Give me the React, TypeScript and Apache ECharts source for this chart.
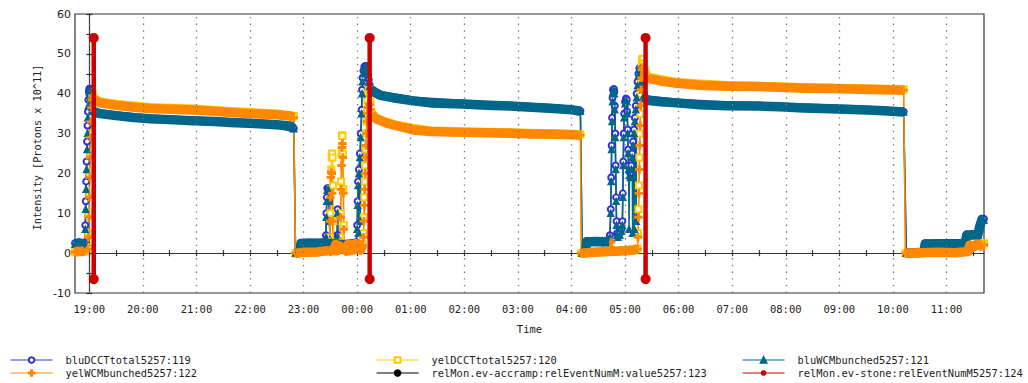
import { useEffect, useRef } from "react";
import * as echarts from "echarts";

// Time is in minutes since 19:00; intensities in units of 10^11 protons.
type Pt = [number, number];

const N119 = "bluDCCTtotal5257:119";
const N120 = "yelDCCTtotal5257:120";
const N121 = "bluWCMbunched5257:121";
const N122 = "yelWCMbunched5257:122";
const N123 = "relMon.ev-accramp:relEventNumM:value5257:123";
const N124 = "relMon.ev-stone:relEventNumM5257:124";

const hourTicks = [0, 60, 120, 180, 240, 300, 360, 420, 480, 540, 600, 660, 720, 780, 840, 900, 960];
const yTicks = [-10, 0, 10, 20, 30, 40, 50, 60];

// ---- bluWCMbunched (teal) ----
const tealBase1: Pt[] = [[-16, 2.2], [-12, 2.5], [-8, 2.3], [-5, 2.4]];
const tealRamp1: Pt[] = [[-4.5, 6], [-4, 11], [-3.5, 16], [-3, 21], [-2.5, 26], [-2, 30], [-1.5, 34], [-1, 37], [-0.5, 39.5], [0, 40.5], [0.5, 40.8], [1, 40.5], [1.5, 39], [2, 37.5], [3, 36]];
const tealFill1: Pt[] = [[4, 35.6], [12, 35.0], [30, 34.5], [50, 34.0], [68, 33.7], [90, 33.5], [116, 33.2], [140, 33.0], [158, 32.8], [185, 32.5], [210, 32.2], [225, 31.9], [229, 31.2]];
const tealBase2: Pt[] = [[231, 0], [236, 0.2], [237, 2.3], [245, 2.5], [255, 2.4], [262, 2.5], [274, 2.2], [280, 2.0], [288, 1.9], [296, 2.2], [299, 2.5]];
const tealSpikes2: Pt[] = [[265, 4], [265.5, 9], [266, 13], [266.5, 15.8], [268, 15.8], [268.5, 13], [269, 8], [269.5, 3.5], [277.5, 4], [278, 10], [278.5, 4]];
const tealRamp2: Pt[] = [[300, 6], [300.5, 12], [301, 17], [301.5, 5], [302, 20], [303, 24], [303.5, 8], [304, 29], [305, 35], [305.5, 40], [306, 43], [307, 45], [308, 46.3], [309.5, 46.7], [311, 46.5], [312, 45], [313, 43], [314, 41.8]];
const tealFill2: Pt[] = [[316, 41.0], [320, 40.3], [326, 39.6], [340, 39.0], [363, 38.2], [382, 37.7], [419, 37.4], [445, 37.1], [471, 36.9], [495, 36.6], [520, 36.3], [540, 36.0], [550, 35.6]];
const tealBase3: Pt[] = [[552, 0], [556, 0.3], [557, 2.8], [568, 2.9], [576, 2.8], [582, 2.9]];
const tealSpikes3: Pt[] = [
  [583, 4], [584, 10], [584.5, 18], [585, 26], [585.5, 33], [586, 38], [586.5, 40.5], [587.5, 40.8], [588, 40], [588.5, 36], [589, 29], [589.5, 21], [590, 13], [590.5, 7], [591, 4.5],
  [592, 4], [594, 4.5], [596, 5.5],
  [597, 7], [597.5, 14], [598, 22], [598.5, 29], [599, 34], [600, 37.5], [601, 38.3], [602, 38], [602.5, 35], [603, 30], [603.5, 25], [604, 21], [604.5, 6], [605, 19.5], [606, 19],
  [607, 21], [608, 24], [608.5, 5], [609, 27], [610, 30], [610.5, 6], [611, 33], [612, 36], [612.5, 8], [613, 39], [614, 42], [615, 44.5], [616, 46], [617, 46.3], [618, 45], [619, 43], [620, 41], [621, 39.5], [622, 38.8],
];
const tealFill3: Pt[] = [[624, 38.5], [627, 38.3], [640, 38.0], [658, 37.7], [684, 37.2], [714, 37.0], [750, 36.9], [773, 36.7], [800, 36.4], [830, 36.2], [863, 36.0], [890, 35.7], [912, 35.4]];
const tealBase4: Pt[] = [[915, 0], [925, 0.1], [935, 0.2], [936, 2.2], [950, 2.3], [965, 2.2], [981, 2.3], [982.5, 4.4], [990, 4.6], [995, 4.5], [997, 6.5], [999.5, 8.3], [1002, 8.3]];

// ---- bluDCCTtotal (blue) ----
const blueBase1: Pt[] = [[-16, 2.5], [-12, 2.7], [-8, 2.6], [-5, 2.6]];
const blueRamp1: Pt[] = [[-4.5, 7], [-4, 13], [-3.5, 18], [-3, 23], [-2.5, 28], [-2, 32], [-1.5, 35.5], [-1, 38.5], [-0.5, 40.5], [0, 41.2], [0.5, 41.3], [1, 41], [1.5, 39.5], [2, 38], [3, 36.3]];
const blueFill1: Pt[] = [[4, 35.7], [12, 35.1], [30, 34.6], [68, 33.8], [116, 33.3], [158, 32.9], [210, 32.3], [229, 31.3]];
const blueBase2: Pt[] = [[231, 0.1], [236, 0.2], [237, 2.6], [262, 2.7], [280, 2.2], [299, 2.7]];
const blueSpikes2: Pt[] = [[265, 4.5], [265.5, 10], [266, 14], [266.5, 16.3], [268, 16.3], [268.5, 13], [269, 8], [269.5, 4], [277.5, 4.5], [278, 11], [278.5, 4.5]];
const blueRamp2: Pt[] = [[300, 7], [300.5, 13], [301, 18], [302, 21], [303, 25], [304, 30], [305, 36], [305.5, 41], [306, 44], [307, 45.8], [308, 46.8], [309.5, 47], [311, 46.8], [312, 45.5], [313, 43.5], [314, 42.2]];
const blueFill2: Pt[] = [[316, 41.1], [326, 39.7], [363, 38.3], [419, 37.5], [471, 37.0], [520, 36.4], [550, 35.7]];
const blueBase3: Pt[] = [[552, 0.1], [556, 0.3], [557, 3.0], [582, 3.1]];
const blueSpikes3: Pt[] = [
  [583, 4.5], [584, 11], [584.5, 19], [585, 27], [585.5, 34], [586, 39], [586.5, 41], [587.5, 41.2], [588, 40.5], [588.5, 37], [589, 30], [589.5, 22], [590, 14], [590.5, 8], [591, 5],
  [592, 4.5], [594, 5], [596, 6],
  [597, 8], [597.5, 15], [598, 23], [598.5, 30], [599, 35], [600, 38], [601, 38.8], [602, 38.5], [602.5, 35.5], [603, 31], [603.5, 26], [604, 22], [605, 20.5], [606, 20],
  [607, 22], [608, 25], [609, 28], [610, 31], [611, 34], [612, 37], [613, 40], [614, 43], [615, 45], [616, 46.4], [617, 46.6], [618, 45.5], [619, 43.5], [620, 41.5], [621, 40], [622, 39.2],
];
const blueFill3: Pt[] = [[624, 38.6], [658, 37.8], [714, 37.1], [773, 36.8], [863, 36.1], [912, 35.5]];
const blueBase4: Pt[] = [[915, 0.1], [935, 0.2], [936, 2.5], [981, 2.6], [982.5, 4.7], [995, 4.8], [999.5, 8.6], [1002, 8.6]];

// ---- yelWCMbunched (orange) ----
const orangeBase1: Pt[] = [[-16, 0.3], [-12, 0.5], [-8, 0.4], [-5, 0.6]];
const orangeRamp1: Pt[] = [[-1.5, 1], [-1, 4], [-0.5, 9], [0, 14], [0.5, 19], [1, 24], [1.5, 29], [2, 33], [2.5, 36.5], [3, 38.5], [3.5, 39.5], [4, 39.2]];
const orangeFill1: Pt[] = [[5, 38.6], [12, 37.7], [30, 37.1], [50, 36.6], [68, 36.3], [90, 36.1], [116, 35.9], [140, 35.6], [158, 35.3], [185, 35.0], [210, 34.7], [225, 34.4], [229, 34.0]];
const orangeBase2: Pt[] = [[231, 0], [240, 0.2], [255, 0.3], [262, 0.5], [266, 0.6], [274, 0.6], [276, 2.2], [278, 0.6], [280, 1.8], [288, 0.5], [290, 2.3], [292, 0.6], [294, 2.2], [296, 0.8], [298, 2.4], [300, 1], [302, 2.3], [304, 0.8], [306, 2]];
const orangeSpikes2: Pt[] = [[269, 3], [269.5, 8], [270, 14], [270.5, 19], [271, 20.4], [271.5, 20], [272, 15], [272.5, 8], [273, 2], [281, 3], [281.5, 9], [282, 16], [282.5, 22], [283, 26.5], [283.5, 27.5], [284, 24], [284.5, 15], [285, 6], [285.5, 1.5]];
const orangeRamp2: Pt[] = [[307, 4], [307.5, 8], [308, 12], [308.5, 16], [309, 20], [309.5, 24], [310, 27], [310.5, 30], [311, 33], [311.5, 35], [312, 36.5], [313, 37.4], [314, 37.2], [315, 36]];
const orangeFill2: Pt[] = [[316, 35.0], [318, 34.3], [322, 33.6], [333, 32.6], [345, 31.9], [363, 30.9], [382, 30.5], [419, 30.3], [445, 30.2], [471, 30.1], [495, 29.9], [520, 29.8], [540, 29.7], [550, 29.6]];
const orangeBase3: Pt[] = [[551, 0], [565, 0.2], [580, 0.4], [590, 0.5], [600, 0.6], [610, 0.8], [614, 1]];
const orangeSpikes3: Pt[] = [[584, 1.5], [584.5, 2.8], [585, 1.2]];
const orangeRamp3: Pt[] = [[614.5, 4], [615, 9], [615.5, 15], [616, 21], [616.5, 27], [617, 32], [617.5, 37], [618, 41], [618.5, 44], [619, 46], [620, 46.6], [621, 46], [622, 45], [623, 44.4]];
const orangeFill3: Pt[] = [[625, 44.0], [627, 43.8], [640, 43.2], [658, 42.6], [684, 42.1], [714, 41.9], [750, 41.8], [773, 41.6], [800, 41.4], [830, 41.3], [863, 41.1], [890, 41.0], [912, 40.9]];
const orangeBase4: Pt[] = [[914, 0], [930, 0.1], [950, 0.2], [970, 0.1], [984, 0.4], [986, 2], [990, 1.5], [994, 2.3], [998, 1.8], [1002, 2.1]];

// ---- yelDCCTtotal (yellow) ----
const yellowBase1: Pt[] = [[-16, 0.2], [-10, 0.3], [-5, 0.4]];
const yellowRamp1: Pt[] = [[-1.5, 1.5], [-1, 5], [-0.5, 10], [0, 15], [0.5, 20], [1, 25], [1.5, 30], [2, 34], [2.5, 37.5], [3, 39.5], [3.5, 40.2], [4, 39.8]];
const yellowFill1: Pt[] = [[5, 38.9], [12, 38.0], [30, 37.4], [68, 36.6], [116, 36.2], [158, 35.6], [210, 35.0], [229, 34.4]];
const yellowBase2: Pt[] = [[231, 0], [262, 0.4], [268, 0.6], [275, 0.8], [280, 1.5], [288, 1], [298, 2], [306, 2.2]];
const yellowSpikes2: Pt[] = [[269.5, 4], [270, 10], [270.5, 16], [271, 21], [271.5, 24], [272, 25], [272.5, 24], [273, 17], [273.5, 8], [274, 2], [281, 4], [281.5, 10], [282, 18], [282.5, 25], [283, 29.6], [283.5, 29.4], [284, 25], [284.5, 16], [285, 7], [285.5, 2]];
const yellowRamp2: Pt[] = [[307, 5], [307.5, 9], [308, 14], [308.5, 18], [309, 22], [309.5, 26], [310, 30], [310.5, 33], [311, 36], [311.5, 38.5], [312, 40], [313, 41], [314, 40.3], [315, 38]];
const yellowFill2: Pt[] = [[316, 35.3], [322, 33.8], [345, 32.1], [382, 30.7], [471, 30.3], [520, 30.0], [550, 29.8]];
const yellowBase3: Pt[] = [[551, 0], [580, 0.4], [600, 0.7], [614, 1.1]];
const yellowRamp3: Pt[] = [[614.5, 5], [615, 11], [615.5, 17], [616, 24], [616.5, 30], [617, 35], [617.5, 40], [618, 44], [618.5, 47], [619, 48.5], [620, 48.8], [621, 47.5], [622, 46], [623, 45]];
const yellowFill3: Pt[] = [[625, 44.3], [658, 42.9], [714, 42.1], [800, 41.6], [863, 41.3], [912, 41.1]];
const yellowBase4: Pt[] = [[914, 0], [950, 0.2], [984, 0.5], [990, 2], [1002, 2.5]];

// ---- relMon.ev-stone event markers ----
const stoneEventTimes = [5, 314, 623];
const stoneHigh = 54;
const stoneLow = -6.5;
const accrampEvents: Pt[] = [];

// All points of one channel in time order (thin connecting trace with markers).
const trace = (parts: Pt[][]) => parts.flat().slice().sort((a, b) => a[0] - b[0]);
// Plateau / baseline runs, broken between runs (thick band).
const band = (runs: Pt[][]) =>
  runs.flatMap((r, i) => (i === 0 ? r : [[r[0][0], null] as any, ...r]));

const mono = "'DejaVu Sans Mono', monospace";
const plusSymbol = "path://M4,0H6V4H10V6H6V10H4V6H0V4H4Z";

const C_BLUE = "#3030d8";
const C_YEL = "#ffcc00";
const C_TEAL = "#00678a";
const C_ORANGE = "#ff8800";
const C_RED = "#cc0000";

const fmtHour = (v: number) => {
  const h = (((19 + Math.round(v / 60)) % 24) + 24) % 24;
  return (h < 10 ? "0" : "") + h + ":00";
};

const halfHourTicks = hourTicks.flatMap((h) => [h, h + 30]).filter((v) => v <= 1002);

const thinSeries = (name: string, color: string, symbol: string, size: number, data: Pt[], extra: any = {}) => ({
  type: "line",
  name,
  data,
  z: 2,
  xAxisIndex: 0,
  yAxisIndex: 0,
  symbol,
  symbolSize: size,
  showSymbol: true,
  showAllSymbol: true,
  lineStyle: { color, width: 1.5 },
  itemStyle: { color, borderColor: color, borderWidth: 1.5 },
  emphasis: { disabled: true },
  silent: true,
  animation: false,
  ...extra,
});

const bandSeries = (name: string, color: string, width: number, data: any[]) => ({
  type: "line",
  name,
  data,
  z: 3,
  xAxisIndex: 0,
  yAxisIndex: 0,
  symbol: "none",
  showSymbol: false,
  connectNulls: false,
  lineStyle: { color, width, cap: "butt", join: "round" },
  itemStyle: { color },
  emphasis: { disabled: true },
  silent: true,
  animation: false,
});

const blueRuns = [blueBase1, blueFill1, blueBase2, blueFill2, blueBase3, blueFill3, blueBase4];
const yellowRuns = [yellowBase1, yellowFill1, yellowBase2, yellowFill2, yellowBase3, yellowFill3, yellowBase4];
const tealRuns = [tealBase1, tealFill1, tealBase2, tealFill2, tealBase3, tealFill3, tealBase4];
const orangeRuns = [orangeBase1, orangeFill1, orangeBase2, orangeFill2, orangeBase3, orangeFill3, orangeBase4];

const stoneData: any[] = stoneEventTimes.flatMap((t) => [[t, stoneHigh], [t, stoneLow], [t, null]]);

const legendCommon = {
  orient: "vertical",
  top: 354,
  padding: 0,
  itemWidth: 42,
  itemHeight: 7,
  itemGap: 1,
  selectedMode: false,
  lineStyle: { width: 1.2 },
  textStyle: { fontFamily: mono, fontSize: 10.4, color: "#222", lineHeight: 12, padding: [0, 0, 0, 8] },
};

const axisColor = "#333";

const option: any = {
  animation: false,
  backgroundColor: "#ffffff",
  grid: [
    { left: 75, right: 44, top: 14, bottom: 90, show: true, borderColor: axisColor, borderWidth: 1.2, backgroundColor: "transparent" },
    { left: 75, right: 44, top: 14, bottom: 90, show: false },
  ],
  xAxis: [
    {
      type: "value",
      gridIndex: 0,
      min: -16,
      max: 1002,
      axisLine: { show: true, lineStyle: { color: axisColor, width: 1.2 } },
      axisTick: { show: true, inside: false, length: 3, customValues: halfHourTicks, lineStyle: { color: axisColor, width: 1.2 } },
      axisLabel: { customValues: hourTicks, formatter: fmtHour, margin: 10, fontFamily: mono, fontSize: 10.5, color: "#222" },
      splitLine: { show: false },
      name: "Time",
      nameLocation: "middle",
      nameGap: 30,
      nameTextStyle: { fontFamily: mono, fontSize: 10.5, color: "#222" },
    },
    {
      type: "value",
      gridIndex: 1,
      min: -16,
      max: 1002,
      axisLine: { show: false },
      axisTick: { show: true, inside: true, length: 3, customValues: halfHourTicks, lineStyle: { color: axisColor, width: 1.2 } },
      axisLabel: { show: false },
      splitLine: { show: false },
    },
  ],
  yAxis: [
    {
      type: "value",
      gridIndex: 0,
      min: -10,
      max: 60,
      interval: 5,
      axisLine: { show: true, lineStyle: { color: axisColor, width: 1.2 } },
      axisTick: { show: true, inside: false, length: 3, lineStyle: { color: axisColor, width: 1.2 } },
      axisLabel: {
        margin: 4,
        fontFamily: "'DejaVu Sans', sans-serif",
        fontSize: 11,
        color: "#222",
        formatter: (v: number) => (yTicks.includes(v) ? String(v) : ""),
      },
      splitLine: { show: false },
      name: "Intensity [Protons x 10^11]",
      nameLocation: "middle",
      nameGap: 30,
      nameTextStyle: { fontFamily: mono, fontSize: 10.2, color: "#222", padding: [0, 0, 0, 12] },
    },
    {
      type: "value",
      gridIndex: 1,
      min: -10,
      max: 60,
      interval: 5,
      axisLine: { show: false },
      axisTick: { show: true, inside: true, length: 3, lineStyle: { color: axisColor, width: 1.2 } },
      axisLabel: { show: false },
      splitLine: { show: false },
    },
  ],
  legend: [
    { ...legendCommon, left: 10, data: [N119, N122] },
    { ...legendCommon, left: 376, data: [N120, N123] },
    { ...legendCommon, left: 742, data: [N121, N124] },
  ],
  series: [
    thinSeries(N119, C_BLUE, "emptyCircle", 6,
      trace([blueBase1, blueRamp1, blueFill1, blueBase2, blueSpikes2, blueRamp2, blueFill2, blueBase3, blueSpikes3, blueFill3, blueBase4]),
      {
        markLine: {
          silent: true,
          symbol: ["none", "none"],
          label: { show: false },
          emphasis: { disabled: true },
          animation: false,
          lineStyle: { color: "#777", type: [1.4, 5.3], width: 1.3 },
          data: hourTicks.map((v) => ({ xAxis: v })),
        },
      }),
    bandSeries(N119, C_BLUE, 8, band(blueRuns)),
    thinSeries(N120, C_YEL, "emptyRect", 6,
      trace([yellowBase1, yellowRamp1, yellowFill1, yellowBase2, yellowSpikes2, yellowRamp2, yellowFill2, yellowBase3, yellowRamp3, yellowFill3, yellowBase4])),
    bandSeries(N120, C_YEL, 8.5, band(yellowRuns)),
    thinSeries(N121, C_TEAL, "triangle", 6,
      trace([tealBase1, tealRamp1, tealFill1, tealBase2, tealSpikes2, tealRamp2, tealFill2, tealBase3, tealSpikes3, tealFill3, tealBase4])),
    bandSeries(N121, C_TEAL, 9.5, band(tealRuns)),
    thinSeries(N122, C_ORANGE, plusSymbol, 7,
      trace([orangeBase1, orangeRamp1, orangeFill1, orangeBase2, orangeSpikes2, orangeRamp2, orangeFill2, orangeBase3, orangeSpikes3, orangeRamp3, orangeFill3, orangeBase4])),
    bandSeries(N122, C_ORANGE, 9.5, band(orangeRuns)),
    thinSeries(N123, "#000000", "circle", 7, accrampEvents),
    {
      type: "line",
      name: N124,
      data: stoneData,
      z: 5,
      xAxisIndex: 0,
      yAxisIndex: 0,
      symbol: "circle",
      symbolSize: 10,
      showSymbol: true,
      connectNulls: false,
      lineStyle: { color: C_RED, width: 4.5 },
      itemStyle: { color: C_RED },
      emphasis: { disabled: true },
      silent: true,
      animation: false,
    },
  ],
};

export default function App() {
  const ref = useRef<HTMLDivElement>(null);
  useEffect(() => {
    if (!ref.current) return;
    const chart = echarts.init(ref.current, null, { renderer: "svg" });
    chart.setOption(option);
    return () => chart.dispose();
  }, []);
  return (
    <div
      ref={ref}
      style={{ position: "absolute", left: 0, top: 0, width: 1028, height: 383, background: "#ffffff" }}
    />
  );
}
